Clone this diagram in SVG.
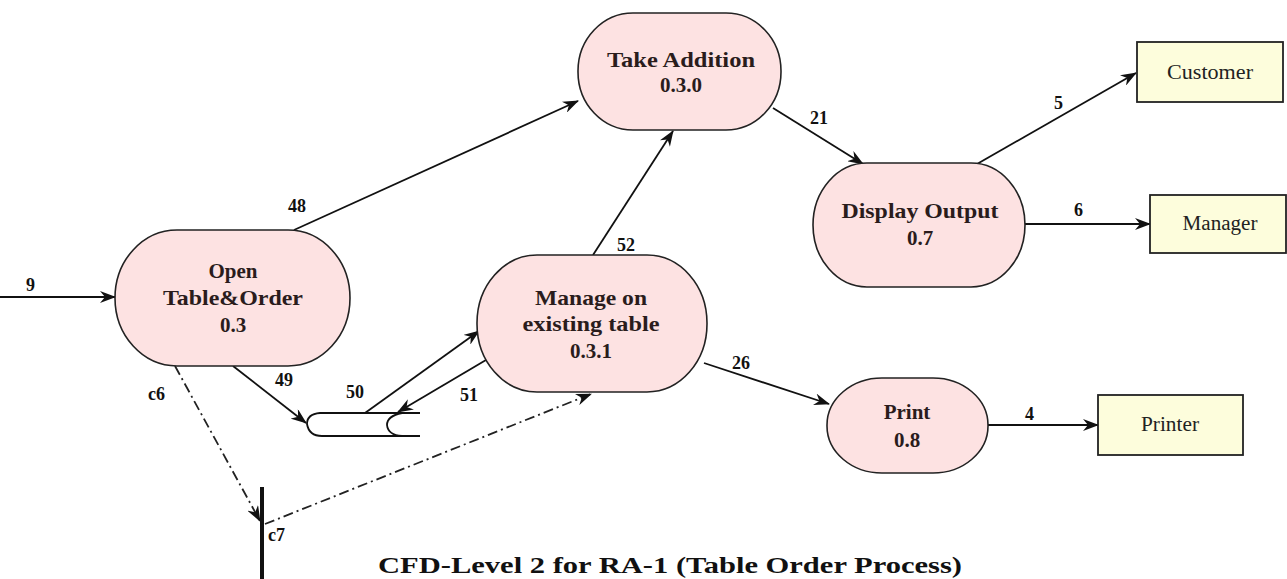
<svg xmlns="http://www.w3.org/2000/svg" width="1287" height="579" viewBox="0 0 1287 579">
  <style>
    .proc { fill: #fde2e2; stroke: #222; stroke-width: 1.6; }
    .ext { fill: #fdfddc; stroke: #222; stroke-width: 1.8; }
    .store { fill: #ffffff; stroke: #111; stroke-width: 1.8; }
    .flow { fill: none; stroke: #111; stroke-width: 1.8; marker-end: url(#arr); }
    .ctrl { fill: none; stroke: #222; stroke-width: 1.8; stroke-dasharray: 10 4 2 4; marker-end: url(#arr); }
    .ptxt { font-family: "Liberation Serif", "Times New Roman", serif; font-weight: bold; font-size: 21px; fill: #2a1c1c; text-anchor: middle; }
    .etxt { font-family: "Liberation Serif", "Times New Roman", serif; font-size: 20px; fill: #222; text-anchor: middle; }
    .lbl { font-family: "Liberation Serif", "Times New Roman", serif; font-weight: bold; font-size: 18px; fill: #111; }
    .title { font-family: "Liberation Serif", "Times New Roman", serif; font-weight: bold; font-size: 23px; fill: #111; }
  </style>
  <defs>
    <marker id="arr" viewBox="0 0 16 12" refX="15" refY="6" markerWidth="16" markerHeight="12" markerUnits="userSpaceOnUse" orient="auto">
      <path d="M0,0 L16,6 L0,12 L5,6 z" fill="#111"/>
    </marker>
  </defs>
  <rect width="1287" height="579" fill="#ffffff"/>

  <!-- flows -->
  <g id="connectors">
    <line class="flow" x1="0" y1="297" x2="115" y2="297"/>
    <line class="flow" x1="294" y1="230" x2="578" y2="101"/>
    <line class="flow" x1="233" y1="366" x2="306" y2="423"/>
    <line class="flow" x1="365" y1="413" x2="479" y2="331"/>
    <line class="flow" x1="486" y1="360" x2="398" y2="412"/>
    <line class="flow" x1="593" y1="255" x2="673" y2="131"/>
    <line class="flow" x1="773" y1="108" x2="863" y2="164"/>
    <line class="flow" x1="977" y1="164" x2="1136" y2="73"/>
    <line class="flow" x1="1025" y1="224" x2="1150" y2="224"/>
    <line class="flow" x1="704" y1="363" x2="829" y2="404"/>
    <line class="flow" x1="988" y1="425" x2="1098" y2="425"/>
    <line class="ctrl" x1="175" y1="366" x2="260" y2="521"/>
    <line class="ctrl" x1="265" y1="524" x2="591" y2="394"/>
    <line x1="262" y1="487" x2="262" y2="579" stroke="#111" stroke-width="4"/>
    <text class="lbl" x="26" y="291">9</text>
    <text class="lbl" x="288" y="212">48</text>
    <text class="lbl" x="275" y="386">49</text>
    <text class="lbl" x="346" y="398">50</text>
    <text class="lbl" x="460" y="401">51</text>
    <text class="lbl" x="617" y="251">52</text>
    <text class="lbl" x="810" y="124">21</text>
    <text class="lbl" x="1054" y="109">5</text>
    <text class="lbl" x="1074" y="216">6</text>
    <text class="lbl" x="732" y="369">26</text>
    <text class="lbl" x="1025" y="420">4</text>
    <text class="lbl" x="148" y="400" font-weight="normal">c6</text>
    <text class="lbl" x="268" y="541" font-weight="normal" font-size="15">c7</text>
  </g>

  <g id="open-table-order">
    <rect class="proc" x="115" y="230" width="235" height="136" rx="62" ry="68"/>
    <text class="ptxt" x="233" y="278">Open</text>
    <text class="ptxt" x="233" y="305" textLength="140" lengthAdjust="spacingAndGlyphs">Table&amp;Order</text>
    <text class="ptxt" x="233" y="332">0.3</text>
  </g>

  <g id="take-addition">
    <rect class="proc" x="578" y="13" width="203" height="117" rx="55" ry="58"/>
    <text class="ptxt" x="681" y="67" textLength="148" lengthAdjust="spacingAndGlyphs">Take Addition</text>
    <text class="ptxt" x="681" y="92">0.3.0</text>
  </g>

  <g id="manage-existing-table">
    <rect class="proc" x="477" y="255" width="230" height="137" rx="60" ry="68"/>
    <text class="ptxt" x="591" y="305" textLength="112" lengthAdjust="spacingAndGlyphs">Manage on</text>
    <text class="ptxt" x="591" y="331" textLength="137" lengthAdjust="spacingAndGlyphs">existing table</text>
    <text class="ptxt" x="591" y="358">0.3.1</text>
  </g>

  <g id="display-output">
    <rect class="proc" x="813" y="163" width="212" height="124" rx="54" ry="62"/>
    <text class="ptxt" x="920" y="218" textLength="157" lengthAdjust="spacingAndGlyphs">Display Output</text>
    <text class="ptxt" x="920" y="245">0.7</text>
  </g>

  <g id="print">
    <rect class="proc" x="827" y="378" width="161" height="95" rx="55" ry="47"/>
    <text class="ptxt" x="907" y="419">Print</text>
    <text class="ptxt" x="907" y="447">0.8</text>
  </g>

  <g id="order-store">
    <path class="store" d="M420,413 L320,413 Q307,414 307,424 Q309,436 322,436 L420,436"/>
    <path fill="none" stroke="#111" stroke-width="1.8" d="M402,413 Q387,416 387,425 Q388,435 402,436"/>
  </g>

  <g id="customer">
    <rect class="ext" x="1137" y="42" width="146" height="60"/>
    <text class="etxt" x="1210" y="79" textLength="86" lengthAdjust="spacingAndGlyphs">Customer</text>
  </g>

  <g id="manager">
    <rect class="ext" x="1150" y="195" width="136" height="58"/>
    <text class="etxt" x="1220" y="230" textLength="75" lengthAdjust="spacingAndGlyphs">Manager</text>
  </g>

  <g id="printer">
    <rect class="ext" x="1098" y="395" width="145" height="60"/>
    <text class="etxt" x="1170" y="431" textLength="58" lengthAdjust="spacingAndGlyphs">Printer</text>
  </g>

  <text class="title" x="378" y="573" textLength="584" lengthAdjust="spacingAndGlyphs">CFD-Level 2 for RA-1 (Table Order Process)</text>
</svg>
